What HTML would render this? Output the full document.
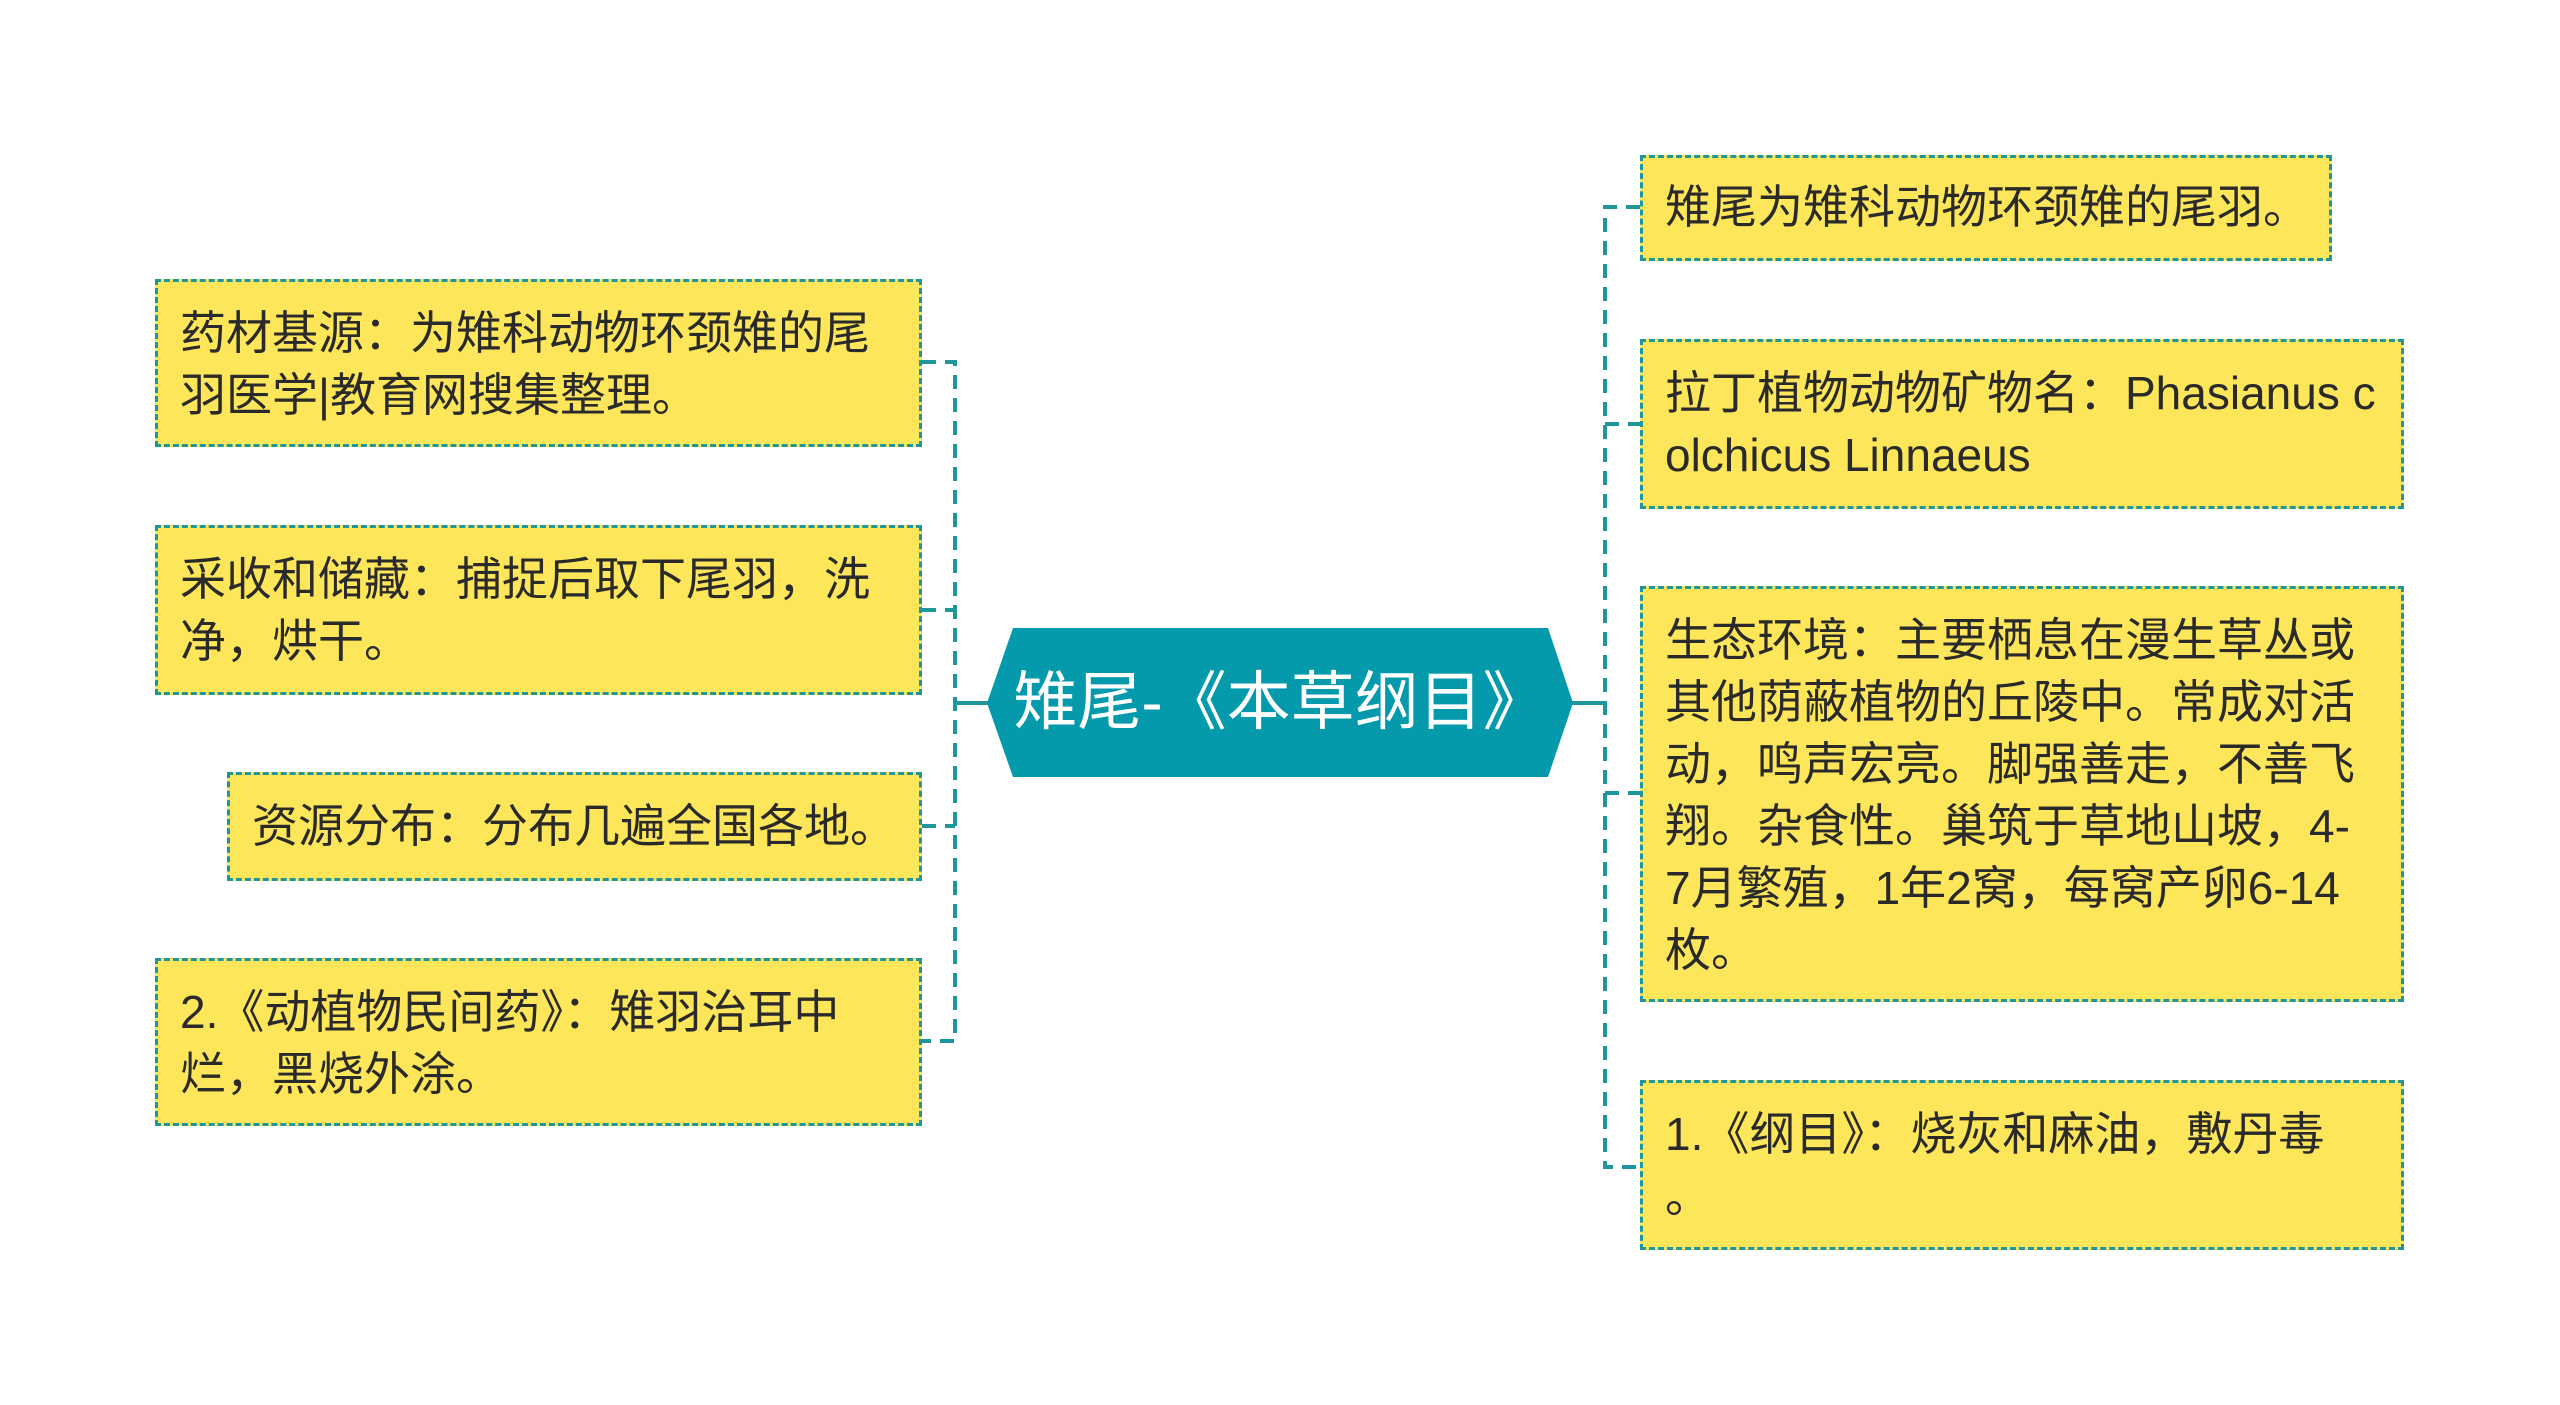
<!DOCTYPE html>
<html><head><meta charset="utf-8"><style>
html,body{margin:0;padding:0;background:#fff;}
body{width:2560px;height:1405px;position:relative;overflow:hidden;font-family:"Liberation Sans","Noto Sans CJK SC",sans-serif;}
.b{position:absolute;box-sizing:border-box;background:#fde65a;border:3px dashed #1f959c;color:#2a2a2a;font-size:46px;line-height:62px;padding:20px 0 0 22px;white-space:nowrap;}
svg{position:absolute;left:0;top:0;}
.c{position:absolute;left:987px;top:628px;width:586px;height:149px;color:#fff;font-size:64px;line-height:149px;text-align:center;font-family:"Liberation Sans","Noto Sans CJK SC",sans-serif;}
</style></head><body>
<svg width="2560" height="1405">
<g stroke="#1f959c" stroke-width="4" fill="none" stroke-dasharray="14 9">
<polyline points="922,362 955,362 955,1041 922,1041"/>
<line x1="922" y1="610" x2="955" y2="610"/>
<line x1="922" y1="826" x2="955" y2="826"/>
<polyline points="1640,207 1605,207 1605,1167 1640,1167"/>
<line x1="1605" y1="424" x2="1640" y2="424"/>
<line x1="1605" y1="793" x2="1640" y2="793"/>
</g>
<g stroke="#1f959c" stroke-width="4">
<line x1="955" y1="703" x2="990" y2="703"/>
<line x1="1570" y1="703" x2="1605" y2="703"/>
</g>
<polygon points="1013,628 1548,628 1573,703 1548,777 1013,777 987,703" fill="#049aab"/>
</svg>
<div class="c">雉尾-《本草纲目》</div>

<div class="b" style="left:155px;top:279px;width:767px;height:168px;">药材基源：为雉科动物环颈雉的尾<br>羽医学|教育网搜集整理。</div>
<div class="b" style="left:155px;top:525px;width:767px;height:170px;">采收和储藏：捕捉后取下尾羽，洗<br>净，烘干。</div>
<div class="b" style="left:227px;top:772px;width:695px;height:109px;padding-top:20px;">资源分布：分布几遍全国各地。</div>
<div class="b" style="left:155px;top:958px;width:767px;height:168px;">2.《动植物民间药》：雉羽治耳中<br>烂，黑烧外涂。</div>

<div class="b" style="left:1640px;top:155px;width:692px;height:106px;padding-top:18px;">雉尾为雉科动物环颈雉的尾羽。</div>
<div class="b" style="left:1640px;top:339px;width:764px;height:170px;">拉丁植物动物矿物名：Phasianus c<br>olchicus Linnaeus</div>
<div class="b" style="left:1640px;top:586px;width:764px;height:416px;">生态环境：主要栖息在漫生草丛或<br>其他荫蔽植物的丘陵中。常成对活<br>动，鸣声宏亮。脚强善走，不善飞<br>翔。杂食性。巢筑于草地山坡，4-<br>7月繁殖，1年2窝，每窝产卵6-14<br>枚。</div>
<div class="b" style="left:1640px;top:1080px;width:764px;height:170px;">1.《纲目》：烧灰和麻油，敷丹毒<br>。</div>
</body></html>
